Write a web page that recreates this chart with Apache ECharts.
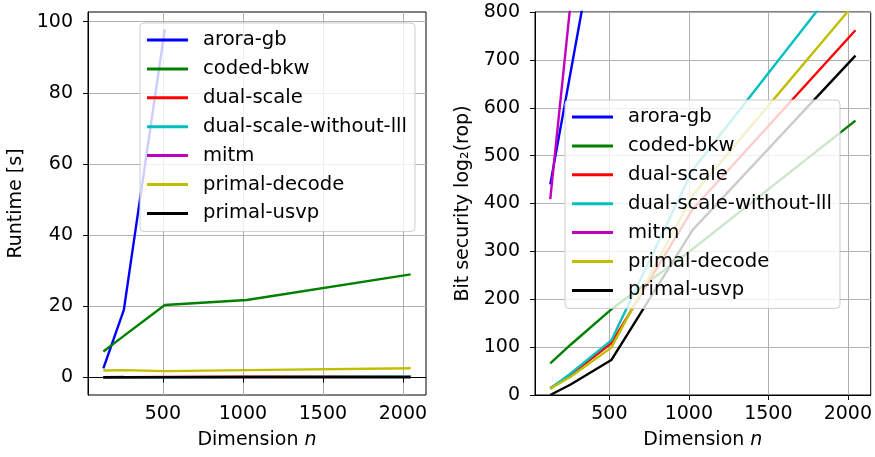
<!DOCTYPE html>
<html>
<head>
<meta charset="UTF-8">
<title>Runtime and bit security</title>
<script type="text/javascript" src="https://cdn.jsdelivr.net/npm/echarts@6/dist/echarts.min.js"></script>
</head>
<body style="margin:0;">
    <div id="main" style="width: 875px;height:457px;"></div>
    <script type="text/javascript">
        // dimensions n
        var dims = [128, 256, 512, 1024, 2048];
        var xTicks = [500, 1000, 1500, 2000];
        var runtimeTicks = [0, 20, 40, 60, 80, 100];

        // left: runtime in seconds
        var rtAroraGb = [2.6, 19.0, 97.9];
        var rtCodedBkw = [7.3, 11.7, 20.4, 21.8, 29.0];
        var rtDualScale = [0.1, 0.1, 0.2, 0.3, 0.4];
        var rtDualScaleNoLll = [0.1, 0.1, 0.1, 0.2, 0.3];
        var rtMitm = [0.1, 0.2];
        var rtPrimalDecode = [2.0, 2.1, 1.8, 2.1, 2.6];
        var rtPrimalUsvp = [0.1, 0.1, 0.1, 0.1, 0.1];

        // right: bit security log2(rop)
        var bsAroraGb = [440, 674, 1142];
        var bsCodedBkw = [66, 105, 179, 305, 573];
        var bsDualScale = [14, 42, 108, 388, 762];
        var bsDualScaleNoLll = [13, 45, 114, 470, 905];
        var bsMitm = [409, 820];
        var bsPrimalDecode = [13, 38, 99, 417, 820];
        var bsPrimalUsvp = [0, 22, 73, 345, 709];

        var names = ['arora-gb', 'coded-bkw', 'dual-scale', 'dual-scale-without-lll', 'mitm', 'primal-decode', 'primal-usvp'];
        var colors = ['#0000ff', '#008000', '#ff0000', '#00bfbf', '#bf00bf', '#bfbf00', '#000000'];
        var leftData = [rtAroraGb, rtCodedBkw, rtDualScale, rtDualScaleNoLll, rtMitm, rtPrimalDecode, rtPrimalUsvp];
        var rightData = [bsAroraGb, bsCodedBkw, bsDualScale, bsDualScaleNoLll, bsMitm, bsPrimalDecode, bsPrimalUsvp];

        var font = 'DejaVu Sans';
        var fs = 19;

        function pairs(vals) {
            return vals.map(function (v, i) { return [dims[i], v]; });
        }

        function plain(v) { return String(v); }

        function xAxisFor(gi) {
            return {
                type: 'value', gridIndex: gi, min: 32, max: 2144,
                name: 'Dimension {i|n}', nameLocation: 'middle', nameGap: 36,
                nameTextStyle: { color: '#000', fontFamily: font, fontSize: fs, rich: { i: { fontStyle: 'italic', fontFamily: font, fontSize: fs, color: '#000' } } },
                axisLine: { show: true, lineStyle: { color: '#000', width: 1 } },
                axisTick: { show: true, length: 5, lineStyle: { color: '#000' }, customValues: xTicks },
                axisLabel: { color: '#000', fontFamily: font, fontSize: fs, margin: 10, customValues: xTicks, formatter: plain },
                splitLine: { show: true, lineStyle: { color: '#b0b0b0', width: 1 } }
            };
        }

        function legendAt(left, top) {
            return {
                data: names, orient: 'vertical', left: left, top: top,
                icon: 'rect', itemWidth: 41, itemHeight: 3, itemGap: 8.9,
                padding: [7, 8, 8, 7],
                backgroundColor: 'rgba(255,255,255,0.8)', borderColor: '#cccccc', borderWidth: 1, borderRadius: 4,
                textStyle: { color: '#000', fontFamily: font, fontSize: 19.6, lineHeight: 19.3, padding: [0, 0, 0, 10] },
                selectedMode: false
            };
        }

        var series = [];
        names.forEach(function (nm, i) {
            series.push({ name: nm, type: 'line', xAxisIndex: 0, yAxisIndex: 0, data: pairs(leftData[i]),
                showSymbol: false, symbol: 'none', color: colors[i], lineStyle: { width: 2.4 }, animation: false });
        });
        names.forEach(function (nm, i) {
            series.push({ name: nm, type: 'line', xAxisIndex: 1, yAxisIndex: 1, data: pairs(rightData[i]),
                showSymbol: false, symbol: 'none', color: colors[i], lineStyle: { width: 2.4 }, animation: false });
        });

        var myChart = echarts.init(document.getElementById('main'));
        var option = {
            animation: false,
            grid: [
                { left: 88, top: 12, width: 338, height: 383, show: true, borderColor: '#000', borderWidth: 1 },
                { left: 535, top: 12, width: 337, height: 383, show: true, borderColor: '#000', borderWidth: 1 }
            ],
            xAxis: [xAxisFor(0), xAxisFor(1)],
            yAxis: [
                {
                    type: 'value', gridIndex: 0, min: -4.9, max: 102.7,
                    name: 'Runtime [s]', nameLocation: 'middle', nameGap: 62, nameRotate: 90,
                    nameTextStyle: { color: '#000', fontFamily: font, fontSize: fs },
                    axisLine: { show: true, lineStyle: { color: '#000', width: 1 } },
                    axisTick: { show: true, length: 5, lineStyle: { color: '#000' }, customValues: runtimeTicks },
                    axisLabel: { color: '#000', fontFamily: font, fontSize: fs, margin: 15, customValues: runtimeTicks, formatter: plain },
                    splitLine: { show: true, lineStyle: { color: '#b0b0b0', width: 1 } }
                },
                {
                    type: 'value', gridIndex: 1, min: 0, max: 800, interval: 100,
                    name: 'Bit security log\u2082(rop)', nameLocation: 'middle', nameGap: 62, nameRotate: 90,
                    nameTextStyle: { color: '#000', fontFamily: font, fontSize: fs },
                    axisLine: { show: true, lineStyle: { color: '#000', width: 1 } },
                    axisTick: { show: true, length: 5, lineStyle: { color: '#000' } },
                    axisLabel: { color: '#000', fontFamily: font, fontSize: fs, margin: 15, formatter: plain },
                    splitLine: { show: true, lineStyle: { color: '#b0b0b0', width: 1 } }
                }
            ],
            legend: [legendAt(140, 23), legendAt(565, 100)],
            series: series
        };
        myChart.setOption(option);
    </script>
</body>
</html>
